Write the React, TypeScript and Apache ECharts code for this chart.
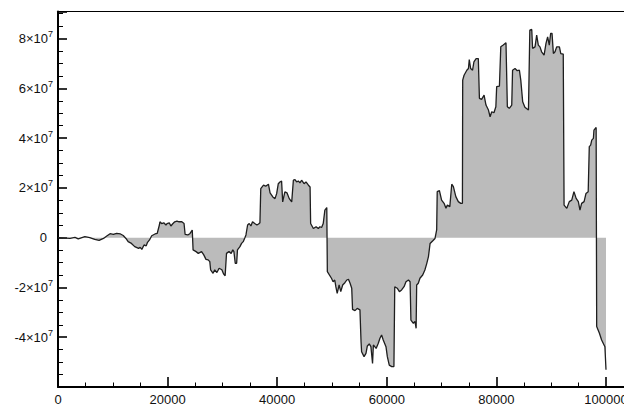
import React, { useEffect, useRef } from "react";
import * as echarts from "echarts";

// Step index of each vertex of the walk.
const STEPS = [
  0, 2200, 3100, 3700, 4900, 5800, 6700, 7500, 8300, 8900,
  9500, 10100, 10700, 11400, 11900, 12400, 12800, 13400, 14000, 14700,
  15000, 15300, 15700, 16100, 16300, 16700, 17100, 17700, 18100, 18500,
  18600, 18900, 19300, 19700, 19900, 20300, 20600, 20900, 21300, 21700,
  22100, 22600, 23000, 23200, 23700, 24100, 24500, 24650, 25200, 25600,
  26200, 26600, 27000, 27400, 27700, 27850, 28300, 28600, 29000, 29400,
  29900, 30200, 30500, 30750, 31200, 31600, 31900, 32100, 32350, 32600,
  32750, 33200, 33500, 33800, 34100, 34300, 34600, 34900, 35200, 35500,
  35900, 36300, 36600, 36850, 37000, 37500, 37900, 38400, 38700, 39200,
  39600, 39900, 40200, 40500, 40800, 41000, 41400, 41800, 42200, 42650,
  42950, 43250, 43550, 43850, 44150, 44450, 44900, 45250, 45700, 46000,
  46100, 46600, 47100, 47500, 47800, 48100, 48400, 48700, 49050, 49150,
  49900, 50200, 50500, 50700, 50950, 51300, 51600, 51950, 52350, 52700,
  53000, 53300, 53600, 53750, 54200, 54600, 55100, 55300, 55400, 55850,
  56200, 56450, 56800, 57100, 57400, 57550, 58050, 58450, 58750, 59050,
  59350, 59850, 60100, 60450, 60900, 61300, 61450, 61900, 62300, 62700,
  63150, 63500, 63950, 64250, 64400, 64850, 65150, 65350, 65450, 65750,
  66050, 66550, 66950, 67300, 67600, 67900, 68400, 68800, 69100, 69200,
  69600, 70000, 70450, 70800, 71050, 71500, 71850, 72150, 72600, 73050,
  73500, 73800, 73850, 74100, 74600, 74900, 75050, 75300, 75650, 75900,
  76300, 76700, 76900, 77300, 77750, 78100, 78550, 78850, 79150, 79550,
  79900, 80050, 80550, 80800, 81250, 81750, 82000, 82350, 82800, 82950,
  83400, 83800, 84200, 84450, 84800, 85200, 85850, 86100, 86450, 86600,
  87050, 87350, 87650, 87950, 88250, 88700, 89050, 89350, 89650, 89900,
  90150, 90400, 90700, 91000, 91500, 91750, 92200, 92350, 92850, 93300,
  93750, 94150, 94550, 94950, 95250, 95550, 96000, 96350, 96750, 96950,
  97200, 97400, 97700, 97800, 98200, 98300, 98800, 99200, 99800, 100000,
];

// Cumulative value at each vertex, in millions.
const VALUES_M = [
  0, -0.3, 0.1, -0.5, 0.4, 0.0, -0.7, -1.1, -0.3, 0.7,
  1.6, 1.3, 1.7, 1.5, 0.9, -0.3, -1.6, -2.3, -3.6, -4.3,
  -3.9, -4.7, -2.9, -3.3, -2.0, -0.9, 0.8, 1.5, 1.7, 5.1,
  6.4, 5.7, 6.0, 5.1, 5.7, 6.0, 4.7, 5.5, 6.4, 6.7,
  6.4, 6.4, 5.7, 1.3, 1.1, 1.7, 3.1, -4.9, -5.6, -6.3,
  -5.6, -6.9, -8.7, -8.9, -9.6, -12.9, -14.3, -12.9, -14.0, -12.3,
  -12.9, -14.5, -15.3, -6.3, -5.6, -6.3, -4.9, -5.6, -10.3, -10.3,
  -4.9, -3.6, -2.3, -1.6, 0.0, 1.1, 5.1, 5.7, 4.7, 6.4,
  5.7, 5.1, 5.5, 6.0, 19.7, 21.1, 20.7, 21.5, 18.0, 16.4,
  15.7, 17.7, 21.7, 22.4, 22.8, 14.4, 18.4, 18.0, 15.7, 14.4,
  23.1, 23.3, 22.4, 22.8, 22.0, 23.1, 21.7, 22.4, 21.1, 20.4,
  5.7, 3.7, 4.4, 3.7, 4.4, 4.1, 5.7, 11.1, 12.1, -13.6,
  -16.3, -17.7, -17.0, -19.7, -22.4, -19.0, -21.7, -19.0, -18.1, -17.0,
  -16.7, -18.3, -20.3, -28.8, -29.3, -28.4, -29.0, -41.8, -45.8, -47.8,
  -46.5, -43.5, -42.7, -43.8, -50.5, -43.1, -44.5, -42.4, -40.4, -39.1,
  -41.1, -43.8, -47.8, -51.2, -51.8, -51.8, -19.7, -20.3, -21.7, -21.0,
  -19.7, -17.7, -17.0, -17.7, -33.1, -34.4, -33.7, -36.4, -19.0, -18.3,
  -16.3, -15.0, -13.0, -10.3, -7.6, -2.3, -1.2, -0.3, 3.1, 18.5,
  18.9, 15.1, 13.8, 11.8, 13.1, 12.5, 21.5, 20.5, 16.5, 14.5,
  13.8, 13.8, 63.3, 65.3, 67.3, 68.0, 71.6, 68.0, 67.3, 70.7,
  72.0, 72.0, 56.0, 55.6, 57.3, 53.3, 51.3, 48.6, 50.6, 50.2,
  52.6, 60.7, 60.9, 76.7, 77.4, 78.3, 52.6, 52.0, 53.3, 67.3,
  68.0, 67.1, 67.3, 63.3, 54.6, 52.4, 51.3, 83.4, 83.7, 76.1,
  76.7, 81.4, 77.4, 76.7, 74.7, 73.4, 78.1, 80.7, 77.4, 82.1,
  82.1, 74.0, 74.7, 76.7, 76.7, 74.0, 73.8, 13.1, 11.8, 14.5,
  15.1, 18.5, 15.8, 14.5, 11.1, 13.8, 14.5, 17.8, 18.5, 36.6,
  37.2, 39.2, 39.9, 43.2, 44.3, -35.7, -38.4, -41.1, -43.8, -53.1,
];

const MILLION = 1e6;

// Axis ranges and tick spacing.
const X_MIN = 0;
const X_MAX = 105000;
const X_INTERVAL = 20000;
const Y_MIN = -6e7;
const Y_MAX = 9.09e7;
const Y_INTERVAL = 2e7;
const Y_EXPONENT = 7;

const FONT = "'Liberation Sans', Arial, Helvetica, sans-serif";

export default function App() {
  const ref = useRef<HTMLDivElement>(null);

  useEffect(() => {
    if (!ref.current) return;
    const chart = echarts.init(ref.current, undefined, { renderer: "svg" });

    const data = STEPS.map((s, i) => [s, VALUES_M[i] * MILLION]);

    chart.setOption({
      animation: false,
      backgroundColor: "#ffffff",
      grid: {
        left: 58,
        top: 11.5,
        width: 575.4,
        bottom: 19,
        containLabel: false,
        outerBoundsMode: "none",
        show: true,
        borderColor: "#000",
        borderWidth: 1,
        backgroundColor: "transparent",
      },
      xAxis: {
        type: "value",
        min: X_MIN,
        max: X_MAX,
        interval: X_INTERVAL,
        axisLine: { show: true, onZero: false, lineStyle: { color: "#000", width: 2 } },
        axisTick: { show: true, inside: true, length: 10, lineStyle: { color: "#000", width: 1.6 } },
        minorTick: { show: true, splitNumber: 4, length: 4.5, lineStyle: { color: "#000", width: 1 } },
        splitLine: { show: false },
        axisLabel: {
          margin: 6,
          fontSize: 13,
          lineHeight: 12,
          fontFamily: FONT,
          color: "#111",
          formatter: (v: number) => (v % X_INTERVAL === 0 && v <= 100000 ? String(v) : ""),
        },
      },
      yAxis: {
        type: "value",
        min: Y_MIN,
        max: Y_MAX,
        interval: Y_INTERVAL,
        axisLine: { show: true, onZero: false, lineStyle: { color: "#000", width: 2 } },
        axisTick: { show: true, inside: true, length: 9, lineStyle: { color: "#000", width: 1.6 } },
        minorTick: { show: true, splitNumber: 4, length: 5, lineStyle: { color: "#000", width: 1 } },
        splitLine: { show: false },
        axisLabel: {
          margin: 5,
          formatter: (v: number) => {
            const k = v / Y_INTERVAL;
            if (Math.abs(k - Math.round(k)) > 1e-6 || v < -5e7 || v > 8.5e7) return "";
            if (Math.abs(v) < 1) return "{z|0}";
            const m = Math.round(v / Math.pow(10, Y_EXPONENT));
            return `{b|${m}\u00d710}{s|${Y_EXPONENT}}`;
          },
          rich: {
            z: { fontSize: 13, fontFamily: FONT, color: "#111", padding: [0, 6, 0, 0], lineHeight: 18 },
            b: { fontSize: 13, fontFamily: FONT, color: "#111", lineHeight: 18 },
            s: { fontSize: 9, fontFamily: FONT, color: "#111", verticalAlign: "top", lineHeight: 10 },
          },
        },
      },
      series: [
        {
          type: "line",
          data,
          showSymbol: false,
          symbol: "none",
          clip: true,
          lineStyle: { color: "#1e1e1e", width: 1.3 },
          areaStyle: { color: "#bbbbbb", opacity: 1 },
        },
      ],
    });

    return () => chart.dispose();
  }, []);

  return (
    <div
      ref={ref}
      style={{ position: "fixed", left: 0, top: 0, width: 624, height: 406 }}
    />
  );
}
